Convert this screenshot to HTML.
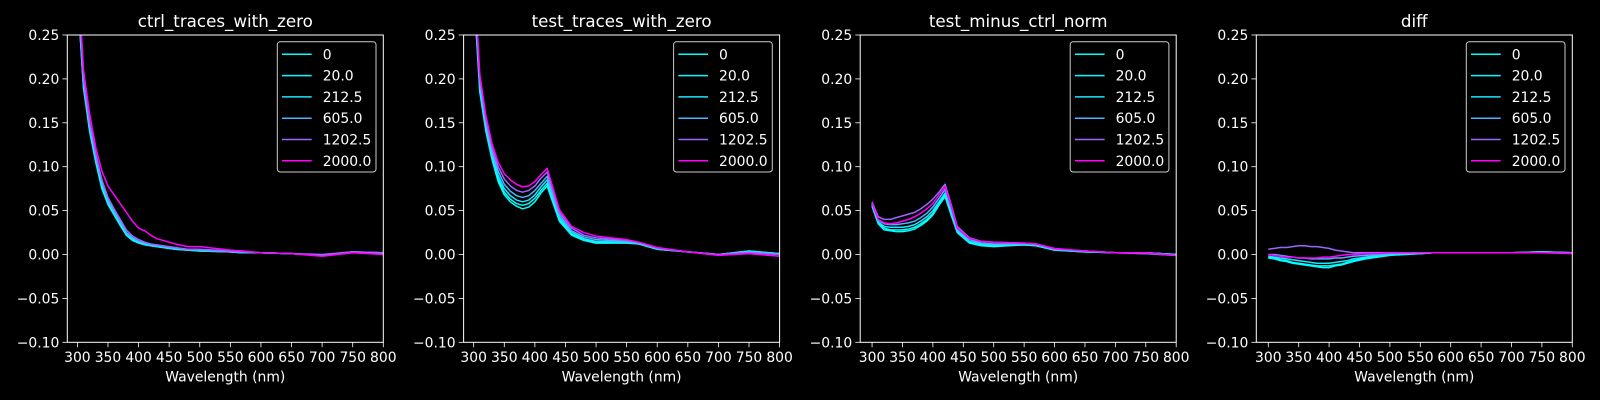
<!DOCTYPE html>
<html><head><meta charset="utf-8"><style>
html,body{margin:0;padding:0;background:#000;}
svg{display:block;font-family:"DejaVu Sans","Liberation Sans",sans-serif;}
</style></head><body>
<svg id="fig" width="1600" height="400" viewBox="0 0 1600 400"></svg>
<script>
const W=[300,310,320,330,340,350,360,370,380,390,400,410,420,430,440,460,480,500,550,570,600,650,700,750,800];
const seriesLabels=["0","20.0","212.5","605.0","1202.5","2000.0"];
const seriesColors=["#00ffff","#03fcff","#1be4ff","#4db2ff","#9966ff","#ff00ff"];
const panelTitles=["ctrl_traces_with_zero","test_traces_with_zero","test_minus_ctrl_norm","diff"];
const yTicks=[-0.10,-0.05,0.00,0.05,0.10,0.15,0.20,0.25];
const xTicks=[300,350,400,450,500,550,600,650,700,750,800];

const c0=[0.30,0.19,0.14,0.105,0.075,0.057,0.045,0.033,0.022,0.016,0.013,0.011,0.010,0.009,0.008,0.006,0.005,0.004,0.003,0.002,0.002,0.001,-0.001,0.003,0.001];
const c20=[0.30,0.19,0.142,0.107,0.077,0.058,0.046,0.034,0.023,0.017,0.014,0.012,0.010,0.009,0.008,0.006,0.005,0.004,0.003,0.002,0.002,0.001,-0.001,0.003,0.001];
const c212=[0.31,0.195,0.145,0.11,0.08,0.06,0.047,0.035,0.024,0.018,0.014,0.012,0.011,0.010,0.009,0.007,0.005,0.005,0.003,0.002,0.002,0.001,-0.001,0.003,0.002];
const c605=[0.31,0.2,0.148,0.112,0.082,0.062,0.049,0.037,0.025,0.019,0.015,0.013,0.011,0.010,0.009,0.007,0.006,0.005,0.003,0.003,0.002,0.001,-0.001,0.003,0.002];
const c1202=[0.32,0.2,0.15,0.115,0.085,0.065,0.052,0.04,0.028,0.021,0.017,0.014,0.012,0.011,0.010,0.008,0.006,0.006,0.004,0.003,0.002,0.001,0.000,0.003,0.002];
const c2000=[0.33,0.21,0.16,0.122,0.095,0.078,0.068,0.058,0.048,0.038,0.03,0.027,0.022,0.018,0.016,0.012,0.009,0.009,0.005,0.004,0.002,0.001,-0.002,0.002,0.000];

const t0=[0.30,0.185,0.14,0.108,0.083,0.068,0.06,0.055,0.052,0.054,0.060,0.070,0.078,0.058,0.038,0.022,0.016,0.013,0.013,0.012,0.006,0.003,0.000,0.004,0.001];
const t20=[0.30,0.19,0.143,0.11,0.086,0.071,0.063,0.058,0.056,0.058,0.064,0.073,0.081,0.060,0.040,0.023,0.017,0.014,0.014,0.012,0.006,0.003,0.000,0.004,0.001];
const t212=[0.31,0.193,0.146,0.113,0.09,0.075,0.067,0.062,0.06,0.062,0.068,0.077,0.085,0.063,0.042,0.025,0.018,0.015,0.014,0.013,0.007,0.003,0.000,0.003,0.001];
const t605=[0.31,0.196,0.15,0.117,0.095,0.08,0.072,0.067,0.065,0.067,0.073,0.081,0.089,0.067,0.045,0.027,0.02,0.017,0.015,0.013,0.007,0.003,0.000,0.003,0.000];
const t1202=[0.32,0.2,0.153,0.121,0.1,0.086,0.078,0.073,0.071,0.073,0.078,0.087,0.094,0.071,0.048,0.03,0.022,0.019,0.016,0.014,0.007,0.003,0.000,0.002,0.000];
const t2000=[0.33,0.205,0.158,0.126,0.105,0.092,0.085,0.08,0.077,0.078,0.083,0.091,0.098,0.075,0.051,0.032,0.025,0.021,0.017,0.014,0.008,0.003,-0.001,0.001,-0.002];

const n0=[0.055,0.035,0.028,0.027,0.026,0.026,0.027,0.029,0.033,0.038,0.045,0.056,0.066,0.045,0.025,0.013,0.01,0.009,0.011,0.01,0.005,0.003,0.002,0.002,0.000];
const n20=[0.056,0.036,0.03,0.028,0.028,0.028,0.029,0.031,0.035,0.04,0.047,0.058,0.068,0.047,0.026,0.014,0.011,0.010,0.011,0.01,0.005,0.003,0.002,0.002,0.000];
const n212=[0.057,0.037,0.032,0.031,0.031,0.031,0.032,0.034,0.038,0.043,0.05,0.06,0.07,0.049,0.027,0.015,0.012,0.011,0.012,0.011,0.006,0.004,0.002,0.002,0.000];
const n605=[0.058,0.039,0.035,0.034,0.034,0.035,0.036,0.038,0.042,0.047,0.054,0.064,0.074,0.052,0.029,0.017,0.013,0.012,0.012,0.011,0.006,0.004,0.002,0.001,-0.001];
const n1202=[0.06,0.043,0.04,0.04,0.042,0.044,0.046,0.048,0.052,0.057,0.063,0.071,0.08,0.057,0.032,0.019,0.015,0.014,0.013,0.012,0.006,0.004,0.002,0.001,-0.001];
const n2000=[0.059,0.04,0.036,0.035,0.036,0.038,0.04,0.043,0.047,0.052,0.058,0.068,0.077,0.055,0.03,0.018,0.015,0.014,0.013,0.012,0.007,0.004,0.002,0.002,-0.001];

const d0=[-0.004,-0.005,-0.007,-0.008,-0.01,-0.011,-0.012,-0.013,-0.014,-0.015,-0.015,-0.013,-0.012,-0.010,-0.008,-0.005,-0.003,-0.001,0.001,0.002,0.002,0.002,0.002,0.003,0.002];
const d20=[-0.003,-0.004,-0.006,-0.007,-0.009,-0.01,-0.011,-0.012,-0.013,-0.013,-0.013,-0.012,-0.011,-0.009,-0.007,-0.004,-0.002,0.000,0.001,0.002,0.002,0.002,0.002,0.003,0.002];
const d212=[-0.002,-0.003,-0.004,-0.005,-0.006,-0.007,-0.008,-0.009,-0.01,-0.01,-0.01,-0.009,-0.008,-0.007,-0.005,-0.003,-0.001,0.000,0.001,0.002,0.002,0.002,0.002,0.003,0.002];
const d605=[0.000,0.000,-0.001,-0.002,-0.003,-0.004,-0.004,-0.005,-0.005,-0.005,-0.005,-0.004,-0.004,-0.003,-0.002,-0.001,0.000,0.001,0.002,0.002,0.002,0.002,0.002,0.002,0.002];
const d1202=[0.006,0.007,0.008,0.008,0.009,0.01,0.01,0.009,0.009,0.008,0.007,0.005,0.004,0.003,0.002,0.002,0.002,0.002,0.002,0.002,0.002,0.002,0.002,0.002,0.002];
const d2000=[0.000,-0.001,-0.002,-0.003,-0.003,-0.004,-0.004,-0.004,-0.004,-0.003,-0.003,-0.002,-0.001,0.000,0.000,0.001,0.001,0.002,0.002,0.002,0.002,0.002,0.002,0.002,0.001];

const panelSeries=[[c0,c20,c212,c605,c1202,c2000],[t0,t20,t212,t605,t1202,t2000],[n0,n20,n212,n605,n1202,n2000],[d0,d20,d212,d605,d1202,d2000]];

const NS="http://www.w3.org/2000/svg";
const svg=document.getElementById('fig');
function mk(tag,attrs,parent){const e=document.createElementNS(NS,tag);for(const k in attrs)e.setAttribute(k,attrs[k]);(parent||svg).appendChild(e);return e;}

const lefts=[67.3,463.6,860.2,1256.3];
const xMins=[283.5,283.5,280.5,280.3];
const AW=316, TOP=35, AH=307.3, YMIN=-0.10, YMAX=0.25, XMAX=800;

panelSeries.forEach((series,p)=>{
  const L=lefts[p];
  const g=mk('g',{});
  
  
  const xs=v=>L+(v-xMins[p])/(XMAX-xMins[p])*AW;
  const ys=v=>TOP+(YMAX-v)/(YMAX-YMIN)*AH;
  const cp=mk('clipPath',{id:'clip'+p},g);
  mk('rect',{x:L,y:TOP,width:AW,height:AH},cp);
  const lines=mk('g',{'clip-path':'url(#clip'+p+')'},g);
  series.forEach((arr,i)=>{
    const d=arr.map((v,k)=>(k?'L':'M')+xs(W[k]).toFixed(2)+','+ys(v).toFixed(2)).join(' ');
    const pl=mk('path',{d:d,fill:'none',stroke:seriesColors[i],'stroke-width':1.5,'stroke-linejoin':'round'},lines);
    
    
  });
  const fr=mk('rect',{x:L,y:TOP,width:AW,height:AH,fill:'none',stroke:'#fff','stroke-width':1},g);
  
  
  yTicks.forEach(v=>{
    const y=ys(v);
    mk('line',{x1:L-4.9,x2:L,y1:y,y2:y,stroke:'#fff','stroke-width':0.8},g);
    const t=mk('text',{x:L-8,y:y+5,'text-anchor':'end',fill:'#fff','font-size':13.9},g);
    t.textContent=(v<0?'\u2212':'')+Math.abs(v).toFixed(2);
    
    
  });
  xTicks.forEach(v=>{
    const x=xs(v);
    mk('line',{x1:x,x2:x,y1:TOP+AH,y2:TOP+AH+4.9,stroke:'#fff','stroke-width':0.8},g);
    const t=mk('text',{x:x,y:TOP+AH+19.5,'text-anchor':'middle',fill:'#fff','font-size':13.9},g);
    t.textContent=v;
    
    
  });
  const xl=mk('text',{x:L+AW/2,y:381.5,'text-anchor':'middle',fill:'#fff','font-size':13.9},g);
  xl.textContent='Wavelength (nm)';
  
  
  const tt=mk('text',{x:L+AW/2,y:27,'text-anchor':'middle',fill:'#fff','font-size':16.7},g);
  tt.textContent=panelTitles[p];
  
  
  const lg=mk('g',{},g);
  
  
  const LX=L+210;
  mk('rect',{x:LX,y:41.7,width:98.7,height:130.3,rx:3,fill:'#000',stroke:'#cccccc','stroke-width':1,'fill-opacity':0.8},lg);
  seriesLabels.forEach((lab,i)=>{
    const y=54.3+i*21.3;
    const e=mk('g',{},lg);
    
    
    mk('line',{x1:LX+4.7,x2:LX+34.4,y1:y,y2:y,stroke:seriesColors[i],'stroke-width':1.5},e);
    const t=mk('text',{x:LX+45.4,y:y+5,fill:'#fff','font-size':13.9},e);
    t.textContent=lab;
  });
});
</script>
</body></html>
